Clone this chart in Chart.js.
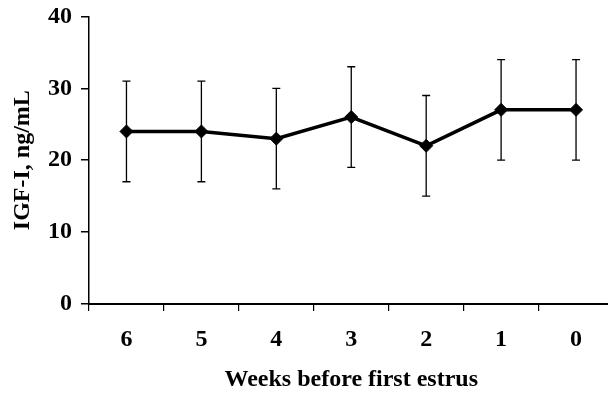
<!DOCTYPE html>
<html>
<head>
<meta charset="utf-8">
<script src="https://cdn.jsdelivr.net/npm/chart.js@4"></script>
<style>
  html, body { margin: 0; padding: 0; background: #fff; overflow: hidden; }
  #wrap { width: 608px; height: 396px; overflow: hidden; position: relative; }
  #inner { position: absolute; left: 0; top: -7px; width: 621px; height: 403px; }
</style>
</head>
<body>
<div id="wrap"><div id="inner"><canvas id="igf"></canvas></div></div>
<script>
// weeks before first estrus
const weeks = ['6', '5', '4', '3', '2', '1', '0'];
// IGF-I means and error (ng/mL)
const igfMean = [24, 24, 23, 26, 22, 27, 27];
const igfErr = [7, 7, 7, 7, 7, 7, 7];
const yTicks = [0, 10, 20, 30, 40];

const font = { family: '"Liberation Serif", "Times New Roman", serif', size: 24, weight: 'bold' };

// draws the vertical error bars with small caps under the line
const errorBars = {
  id: 'errorBars',
  beforeDatasetsDraw(chart) {
    const ctx = chart.ctx;
    const y = chart.scales.y;
    const meta = chart.getDatasetMeta(0);
    ctx.save();
    ctx.strokeStyle = '#000';
    ctx.lineWidth = 1.3;
    meta.data.forEach((pt, i) => {
      const top = y.getPixelForValue(igfMean[i] + igfErr[i]);
      const bot = y.getPixelForValue(igfMean[i] - igfErr[i]);
      ctx.beginPath();
      ctx.moveTo(pt.x, top);
      ctx.lineTo(pt.x, bot);
      ctx.moveTo(pt.x - 4, top);
      ctx.lineTo(pt.x + 4, top);
      ctx.moveTo(pt.x - 4, bot);
      ctx.lineTo(pt.x + 4, bot);
      ctx.stroke();
    });
    ctx.restore();
  }
};

new Chart(document.getElementById('igf'), {
  type: 'line',
  data: {
    labels: weeks,
    datasets: [{
      data: igfMean,
      borderColor: '#000',
      backgroundColor: '#000',
      borderWidth: 3.5,
      pointStyle: 'rectRot',
      pointRadius: 6.5,
      pointBorderWidth: 1,
      tension: 0
    }]
  },
  options: {
    responsive: true,
    maintainAspectRatio: false,
    animation: false,
    layout: { padding: { top: 10, right: 0, left: 0, bottom: 0 } },
    plugins: { legend: { display: false }, tooltip: { enabled: false } },
    scales: {
      x: {
        offset: true,
        grid: { offset: true, drawOnChartArea: false, drawTicks: true, tickLength: 7, color: '#000', lineWidth: 1.2 },
        border: { color: '#000', width: 2 },
        ticks: { color: '#000', font: font, padding: 14, maxRotation: 0 },
        title: { display: true, text: 'Weeks before first estrus', color: '#000', font: font, padding: { top: 0, bottom: 2 } },
        afterFit(scale) { scale.height = 92; }
      },
      y: {
        min: 0,
        max: 40,
        afterBuildTicks(scale) { scale.ticks = yTicks.map(v => ({ value: v })); },
        grid: { drawOnChartArea: false, drawTicks: true, tickLength: 8, color: '#000', lineWidth: 1.5 },
        border: { color: '#000', width: 1.5 },
        ticks: { color: '#000', font: font, padding: 9 },
        title: { display: true, text: 'IGF-I, ng/mL', color: '#000', font: font, padding: { top: 8, bottom: 0 } },
        afterFit(scale) { scale.width = 89; }
      }
    }
  },
  plugins: [errorBars]
});
</script>
</body>
</html>
